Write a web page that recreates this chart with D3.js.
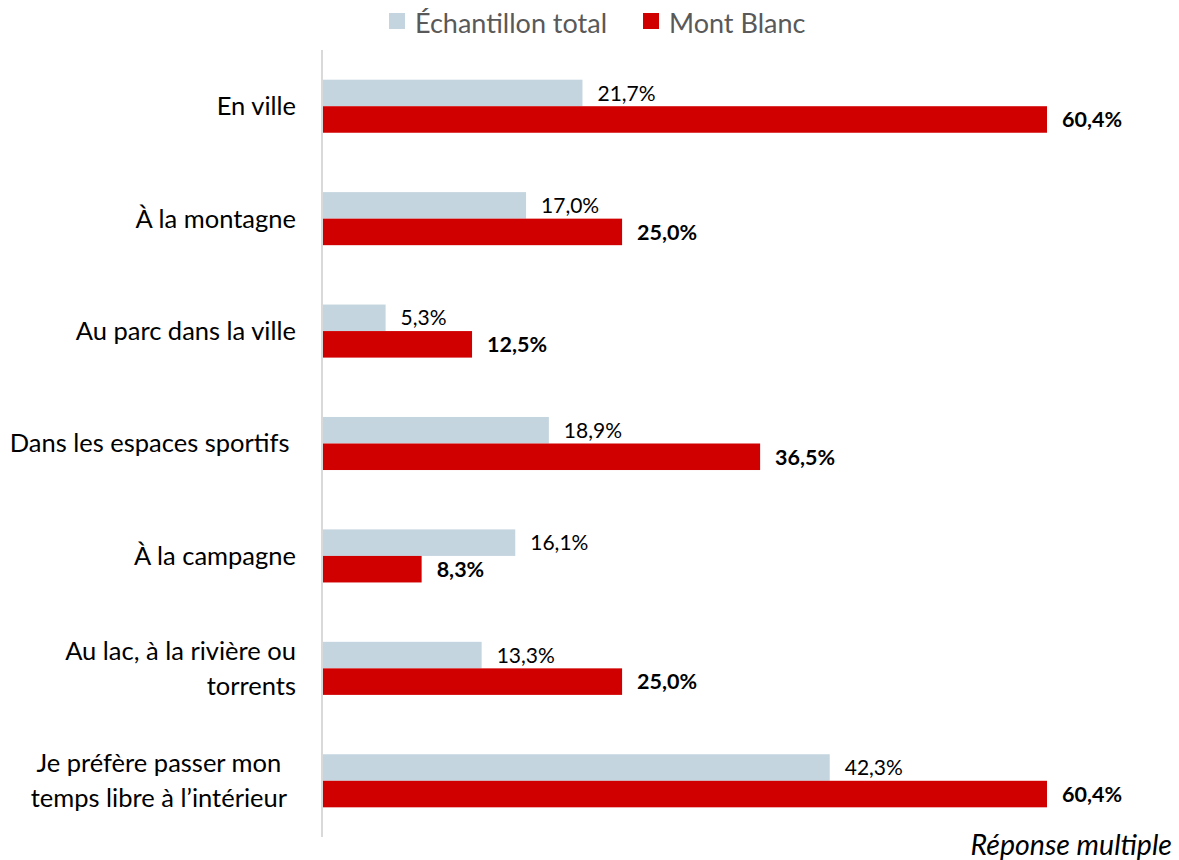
<!DOCTYPE html>
<html><head><meta charset="utf-8">
<script src="https://cdn.jsdelivr.net/npm/d3@7"></script>
<style>
body{margin:0;background:#fff;}
svg{display:block;font-family:Lato,"Noto Sans",sans-serif;}
</style></head>
<body><svg id="c" width="1179" height="860"></svg>
<script>
const categories = [
  ["En ville"],
  ["À la montagne"],
  ["Au parc dans la ville"],
  ["Dans les espaces sportifs\u00a0"],
  ["À la campagne"],
  ["Au lac, à la rivière ou", "torrents"],
  ["Je préfère passer mon", "temps libre à l\u2019intérieur"]
];
const labelAlign = ["end","end","end","end","end","end","middle"];
const seriesNames = ["Échantillon total", "Mont Blanc"];
const totalValues = [21.7, 17.0, 5.3, 18.9, 16.1, 13.3, 42.3];
const montBlancValues = [60.4, 25.0, 12.5, 36.5, 8.3, 25.0, 60.4];
const colors = ["#c5d5df", "#d10000"];
const note = "Réponse multiple";

const svg = d3.select("#c");
const x = d3.scaleLinear().domain([0, 60.4]).range([322, 1047]);
const y = d3.scaleBand().domain(d3.range(categories.length)).range([50, 837]);
const barH = y.bandwidth() * 0.236;
const fmt = v => v.toFixed(1).replace(".", ",") + "%";

const series = [totalValues, montBlancValues];
series.forEach((vals, si) => {
  const g = svg.append("g");
  g.selectAll("rect").data(vals).join("rect")
    .attr("x", x(0))
    .attr("y", (d, i) => y(i) + y.bandwidth() / 2 - barH + si * barH)
    .attr("width", d => x(d) - x(0))
    .attr("height", barH)
    .attr("fill", colors[si]);
  g.selectAll("text").data(vals).join("text")
    .attr("x", d => x(d) + 15)
    .attr("y", (d, i) => y(i) + y.bandwidth() / 2 - barH / 2 + si * barH)
    .attr("dy", "0.36em")
    .attr("font-size", si === 1 ? 21.5 : 21)
    .attr("font-weight", si === 1 ? "bold" : "normal")
    .attr("fill", "#000")
    .text(fmt);
});

// axis line
svg.append("line").attr("x1", x(0)).attr("x2", x(0))
  .attr("y1", y.range()[0]).attr("y2", y.range()[1])
  .attr("stroke", "#d9d9d9").attr("stroke-width", 2);

// category labels
const lh = 34.5;
categories.forEach((lines, i) => {
  const cy = y(i) + y.bandwidth() / 2;
  const t = svg.append("text").attr("font-size", 25.5).attr("fill", "#000")
    .attr("text-anchor", "end").attr("xml:space", "preserve");
  const tspans = lines.map((ln, k) => t.append("tspan")
    .attr("x", 296)
    .attr("y", cy + (k - (lines.length - 1) / 2) * lh)
    .attr("dy", "0.35em").text(ln));
  if (labelAlign[i] === "middle") {
    const w = d3.max(tspans, s => s.node().getComputedTextLength());
    tspans.forEach(s => s.attr("x", 287 - w / 2));
    t.attr("text-anchor", "middle");
  }
});

// legend
const leg = svg.append("g");
let lx = 389;
seriesNames.forEach((n, i) => {
  leg.append("rect").attr("x", lx).attr("y", 13).attr("width", 16).attr("height", 16).attr("fill", colors[i]);
  const t = leg.append("text").attr("x", lx + 26).attr("y", 33)
    .attr("font-size", 27).attr("fill", "#595959").text(n);
  lx = lx + 26 + t.node().getComputedTextLength() + 36;
});

svg.append("text").attr("x", 1172).attr("y", 855).attr("text-anchor", "end")
  .attr("font-size", 28.5).attr("font-style", "italic").attr("fill", "#000").text(note);
</script></body></html>
